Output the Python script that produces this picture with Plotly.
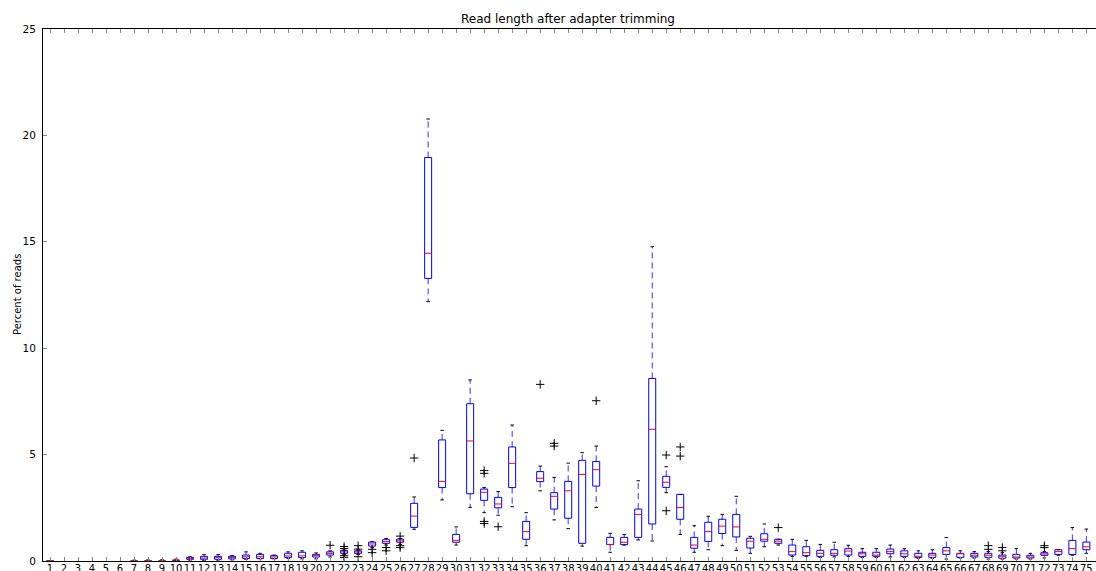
import plotly.graph_objects as go

# Read-length categories (nt) and per-length box statistics (% of reads);
# None marks lengths with no reads at all
lengths = list(range(1, 76))

whisker_lo = [0, None, None, None, None, None, 0, 0, 0, 0.01,
              0.04, 0.03, 0.04, 0.05, 0.08, 0.10, 0.10, 0.12, 0.10, 0.10,
              0.19, 0.31, 0.31, 0.63, 0.75, 0.78, 1.49, 12.19, 2.87, 0.75,
              2.52, 2.27, 2.15, 2.55, 0.72, 3.30, 1.93, 1.52, 0.70, 2.51,
              0.41, 0.75, 0.99, 0.94, 3.21, 1.25, 0.41, 0.53, 0.72, 0.50,
              0.36, 0.67, 0.75, 0.22, 0.22, 0.17, 0.19, 0.22, 0.17, 0.17,
              0.19, 0.17, 0.13, 0.13, 0.09, 0.14, 0.14, 0.09, 0.09, 0.09,
              0.09, 0.14, 0.27, 0.27, 0.36]
q1 = [0.005, None, None, None, None, None, 0, 0.005, 0.005, 0.03,
      0.08, 0.08, 0.08, 0.10, 0.12, 0.12, 0.12, 0.17, 0.16, 0.19,
      0.28, 0.36, 0.36, 0.70, 0.83, 0.88, 1.58, 13.28, 3.45, 0.88,
      3.16, 2.85, 2.50, 3.45, 1.02, 3.73, 2.44, 2.01, 0.83, 3.52,
      0.77, 0.77, 1.11, 1.74, 3.46, 1.96, 0.60, 0.92, 1.29, 1.13,
      0.61, 0.93, 0.83, 0.28, 0.25, 0.22, 0.27, 0.28, 0.22, 0.22,
      0.34, 0.22, 0.17, 0.17, 0.31, 0.17, 0.19, 0.17, 0.13, 0.14,
      0.14, 0.27, 0.31, 0.31, 0.53]
median = [0.01, None, None, None, None, None, 0.01, 0.01, 0.01, 0.05,
          0.12, 0.14, 0.16, 0.16, 0.20, 0.20, 0.19, 0.24, 0.24, 0.27,
          0.36, 0.43, 0.43, 0.80, 0.91, 0.95, 2.11, 14.46, 3.74, 0.97,
          5.64, 3.23, 2.68, 4.59, 1.38, 3.89, 3.04, 3.30, 4.07, 4.29,
          0.78, 0.88, 2.19, 6.19, 3.70, 2.51, 0.75, 1.38, 1.64, 1.60,
          0.93, 1.02, 0.93, 0.44, 0.39, 0.36, 0.36, 0.47, 0.34, 0.28,
          0.44, 0.34, 0.22, 0.28, 0.48, 0.34, 0.27, 0.27, 0.22, 0.19,
          0.19, 0.33, 0.44, 0.58, 0.67]
q3 = [0.015, None, None, None, None, None, 0.01, 0.02, 0.02, 0.06,
      0.17, 0.22, 0.22, 0.22, 0.28, 0.31, 0.25, 0.36, 0.41, 0.31,
      0.43, 0.50, 0.48, 0.89, 1.00, 1.03, 2.71, 18.96, 5.69, 1.25,
      7.39, 3.38, 2.99, 5.36, 1.86, 4.20, 3.21, 3.74, 4.73, 4.68,
      1.11, 1.11, 2.44, 8.58, 3.98, 3.13, 1.11, 1.82, 1.96, 2.19,
      1.07, 1.28, 1.02, 0.75, 0.67, 0.50, 0.53, 0.58, 0.41, 0.41,
      0.56, 0.48, 0.36, 0.36, 0.63, 0.36, 0.36, 0.36, 0.28, 0.31,
      0.27, 0.39, 0.53, 0.97, 0.89]
whisker_hi = [0.02, None, None, None, None, None, 0.04, 0.05, 0.06, 0.09,
              0.20, 0.30, 0.30, 0.25, 0.43, 0.36, 0.28, 0.43, 0.48, 0.38,
              0.48, 0.52, 0.52, 0.91, 1.06, 1.06, 3.01, 20.77, 6.14, 1.60,
              8.51, 3.45, 3.26, 6.39, 2.27, 4.46, 3.93, 4.60, 5.09, 5.40,
              1.30, 1.24, 3.77, 14.77, 4.43, 3.13, 1.66, 2.10, 2.19, 3.04,
              1.16, 1.74, 1.02, 1.02, 0.97, 0.78, 0.88, 0.74, 0.58, 0.58,
              0.75, 0.58, 0.48, 0.53, 1.10, 0.48, 0.44, 0.45, 0.39, 0.58,
              0.36, 0.44, 0.53, 1.57, 1.50]

# Flier points beyond the whiskers
flier_len = [21, 22, 22, 22, 22, 23, 23, 23, 24, 24, 25, 25, 26, 26, 26,
             27, 32, 32, 32, 32, 33, 36, 37, 37, 40, 45, 45, 46, 46, 53,
             68, 68, 69, 69, 72, 72]
flier_val = [0.74, 0.68, 0.59, 0.25, 0.17, 0.72, 0.56, 0.20, 0.55, 0.39,
             0.63, 0.48, 1.17, 0.72, 0.63,
             4.84, 4.25, 4.12, 1.86, 1.76, 1.61, 8.30, 5.53, 5.40, 7.53,
             4.98, 2.36, 5.36, 4.93, 1.57,
             0.72, 0.55, 0.63, 0.48, 0.72, 0.63]

BOX_HALF = 0.25
CAP_HALF = 0.125

box_x, box_y = [], []
med_x, med_y = [], []
wh_x, wh_y = [], []
cap_x, cap_y = [], []
for p, lo, a, m, b, hi in zip(lengths, whisker_lo, q1, median, q3, whisker_hi):
    if m is None:
        continue
    box_x += [p - BOX_HALF, p + BOX_HALF, p + BOX_HALF, p - BOX_HALF, p - BOX_HALF, None]
    box_y += [a, a, b, b, a, None]
    med_x += [p - BOX_HALF, p + BOX_HALF, None]
    med_y += [m, m, None]
    wh_x += [p, p, None, p, p, None]
    wh_y += [b, hi, None, a, lo, None]
    cap_x += [p - CAP_HALF, p + CAP_HALF, None, p - CAP_HALF, p + CAP_HALF, None]
    cap_y += [hi, hi, None, lo, lo, None]

fig = go.Figure()
fig.add_trace(go.Scatter(x=wh_x, y=wh_y, mode="lines",
                         line=dict(color="#3333ff", width=1, dash="6px,4px"),
                         hoverinfo="skip"))
fig.add_trace(go.Scatter(x=cap_x, y=cap_y, mode="lines",
                         line=dict(color="#000000", width=1), hoverinfo="skip"))
fig.add_trace(go.Scatter(x=box_x, y=box_y, mode="lines",
                         line=dict(color="#0000ff", width=1), hoverinfo="skip"))
fig.add_trace(go.Scatter(x=med_x, y=med_y, mode="lines",
                         line=dict(color="#ff0000", width=1), hoverinfo="skip"))
fig.add_trace(go.Scatter(x=flier_len, y=flier_val, mode="markers",
                         marker=dict(symbol="cross-thin", size=6,
                                     line=dict(color="#000000", width=1)),
                         hoverinfo="skip"))

fig.update_layout(
    width=1096, height=571,
    margin=dict(l=43, r=0, t=29, b=10),
    paper_bgcolor="white", plot_bgcolor="white",
    showlegend=False,
    font=dict(family="DejaVu Sans", size=10, color="#000000"),
    title=dict(text="Read length after adapter trimming",
               x=(43 + 1093) / 2 / 1096, xanchor="center", xref="container",
               y=1 - 19 / 571, yanchor="middle", yref="container",
               font=dict(size=12)),
    annotations=[dict(text="Percent of reads", textangle=-90,
                      xref="paper", yref="paper", x=(17 - 43) / 1053, y=0.5,
                      xanchor="center", yanchor="middle", showarrow=False,
                      font=dict(size=10))],
)
fig.update_xaxes(
    range=[0.5, 0.5 + 1053 / 14.005],
    automargin=False,
    tickmode="array", tickvals=lengths, ticktext=[str(v) for v in lengths],
    tickangle=0,
    showgrid=False, zeroline=False,
    showline=True, linecolor="#000000", linewidth=1, mirror="ticks",
    ticks="inside", ticklen=4, tickcolor="#888888",
    ticklabelstandoff=-2,
    tickfont=dict(size=10),
)
fig.update_yaxes(
    range=[0, 25], tickvals=[0, 5, 10, 15, 20, 25],
    automargin=False,
    showgrid=False, zeroline=False,
    showline=True, linecolor="#000000", linewidth=1,
    ticks="inside", ticklen=4, tickcolor="#888888",
    ticklabelstandoff=4,
    tickfont=dict(size=10.5),
)

fig.write_html("out.html")
